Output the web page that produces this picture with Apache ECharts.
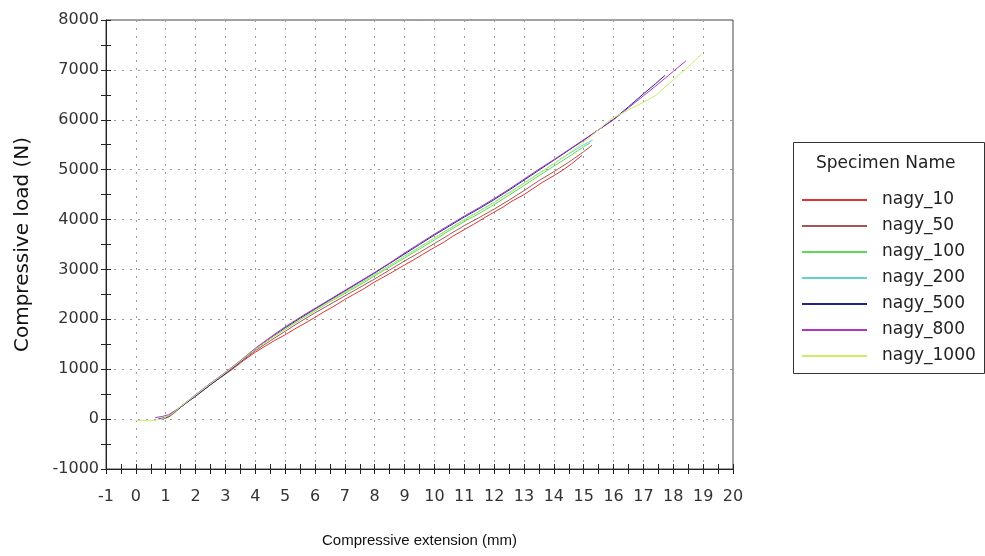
<!DOCTYPE html>
<html>
<head>
<meta charset="utf-8">
<script src="https://cdn.jsdelivr.net/npm/echarts@6/dist/echarts.min.js"></script>
<style>
html,body{margin:0;padding:0;background:#fff;}
#chart{width:985px;height:556px;}
</style>
</head>
<body>
<div id="chart"></div>
<script>
// ---- data ----
const seriesNames = ['nagy_10','nagy_50','nagy_100','nagy_200','nagy_500','nagy_800','nagy_1000'];
const seriesColors = ['#dd3333','#a65552','#55dd55','#66d0d0','#22228a','#b035c0','#c8ee66'];

const nagy_10 = [[0.85,0],[1.1,60],[1.3,150],[1.5,240],[1.8,380],[2.0,470],[2.3,600],[2.6,740],[3.0,900],[3.3,1030],[3.6,1170],[4.0,1340],[4.3,1450],[4.6,1560],[5.0,1690],[5.3,1800],[5.6,1900],[6.0,2040],[6.3,2150],[6.6,2250],[7.0,2400],[7.3,2500],[7.6,2600],[8.0,2750],[8.3,2850],[8.6,2950],[9.0,3090],[9.3,3190],[9.6,3300],[10.0,3440],[10.3,3540],[10.6,3660],[11.0,3800],[11.3,3900],[11.6,4010],[12.0,4150],[12.3,4250],[12.6,4370],[13.0,4500],[13.3,4620],[13.6,4740],[14.0,4880],[14.3,4990],[14.6,5120],[14.95,5290]];
const nagy_50 = [[0.9,0],[1.1,40],[1.3,130],[1.6,290],[2.0,460],[2.5,690],[3.0,910],[3.5,1140],[4.0,1370],[4.5,1570],[5.0,1760],[5.5,1950],[6.0,2130],[6.5,2300],[7.0,2470],[7.5,2640],[8.0,2810],[8.5,2990],[9.0,3170],[9.5,3340],[10.0,3520],[10.5,3700],[11.0,3880],[11.5,4040],[12.0,4210],[12.5,4390],[13.0,4580],[13.5,4780],[14.0,4960],[14.5,5150],[15.0,5360],[15.28,5490]];
const nagy_100 = [[0.9,0],[1.2,100],[1.5,250],[2.0,470],[2.5,700],[3.0,920],[3.5,1160],[4.0,1400],[4.5,1610],[5.0,1800],[5.5,1990],[6.0,2170],[6.5,2350],[7.0,2520],[7.5,2690],[8.0,2870],[8.5,3050],[9.0,3230],[9.5,3410],[10.0,3590],[10.5,3780],[11.0,3960],[11.5,4120],[12.0,4300],[12.5,4490],[13.0,4680],[13.5,4880],[14.0,5070],[14.5,5260],[15.0,5460],[15.2,5530]];
const nagy_200 = [[0.85,0],[1.1,70],[1.4,210],[2.0,480],[2.5,710],[3.0,930],[3.5,1170],[4.0,1410],[4.5,1620],[5.0,1820],[5.5,2000],[6.0,2190],[6.5,2370],[7.0,2550],[7.5,2720],[8.0,2900],[8.5,3080],[9.0,3270],[9.5,3450],[10.0,3630],[10.5,3820],[11.0,4000],[11.5,4170],[12.0,4350],[12.5,4540],[13.0,4730],[13.5,4930],[14.0,5120],[14.5,5320],[15.0,5500],[15.3,5590]];
const nagy_500 = [[0.75,5],[1.0,30],[1.2,100],[1.5,240],[2.0,460],[2.5,690],[3.0,910],[3.5,1150],[4.0,1400],[4.5,1620],[5.0,1830],[5.5,2020],[6.0,2210],[6.5,2390],[7.0,2570],[7.5,2750],[8.0,2930],[8.5,3120],[9.0,3310],[9.5,3500],[10.0,3690],[10.5,3870],[11.0,4050],[11.5,4220],[12.0,4400],[12.5,4590],[13.0,4790],[13.5,4990],[14.0,5190],[14.5,5390],[15.0,5590],[15.5,5800],[16.0,6010],[16.5,6260],[17.0,6520],[17.4,6720],[17.72,6890]];
const nagy_800 = [[0.65,30],[0.9,55],[1.1,90],[1.4,200],[2.0,490],[2.5,720],[3.0,940],[3.5,1170],[4.0,1420],[4.5,1640],[5.0,1850],[5.5,2040],[6.0,2220],[6.5,2400],[7.0,2580],[7.5,2760],[8.0,2940],[8.5,3130],[9.0,3330],[9.5,3520],[10.0,3710],[10.5,3890],[11.0,4070],[11.5,4240],[12.0,4420],[12.5,4610],[13.0,4810],[13.5,5010],[14.0,5200],[14.5,5400],[15.0,5600],[15.5,5800],[16.0,6000],[16.5,6240],[17.0,6480],[17.5,6720],[18.0,6970],[18.42,7179]];
const nagy_1000 = [[0,-30],[0.2,-20],[0.4,-35],[0.65,-25],[0.9,10],[1.2,100],[1.5,250],[2.0,480],[2.5,710],[3.0,930],[3.5,1160],[4.0,1400],[4.5,1610],[5.0,1810],[5.5,2000],[6.0,2180],[6.5,2360],[7.0,2540],[7.5,2710],[8.0,2890],[8.5,3080],[9.0,3260],[9.5,3440],[10.0,3630],[10.5,3810],[11.0,3990],[11.5,4160],[12.0,4340],[12.5,4530],[13.0,4720],[13.5,4920],[14.0,5120],[14.5,5330],[15.0,5550],[15.5,5800],[15.9,6010],[16.5,6200],[17.0,6350],[17.42,6490],[18.0,6800],[18.5,7060],[18.95,7314]];

const xMin = -1, xMax = 20, xStep = 1;
const yMin = -1000, yMax = 8000, yStep = 1000;
const xTitle = 'Compressive extension (mm)';
const yTitle = 'Compressive load (N)';
const legendTitle = 'Specimen Name';

const seriesData = [nagy_10, nagy_50, nagy_100, nagy_200, nagy_500, nagy_800, nagy_1000];

// ---- chart ----
const FONT = 'DejaVu Sans';
const chart = echarts.init(document.getElementById('chart'), null, {renderer:'canvas'});
const axisCol = '#222';
const gridLine = {show:true, lineStyle:{color:'#9a9a9a', width:1, type:[2,6]}};

const option = {
  animation:false,
  backgroundColor:'#ffffff',
  grid:{left:106, top:20, right:252, bottom:87, show:true, borderColor:'#444', borderWidth:1, backgroundColor:'transparent'},
  xAxis:[{
    type:'value', min:xMin, max:xMax, interval:xStep, position:'bottom',
    axisLine:{show:true, onZero:false, lineStyle:{color:axisCol, width:1}},
    axisTick:{show:true, length:5, lineStyle:{color:axisCol}},
    minorTick:{show:true, splitNumber:2, length:5, lineStyle:{color:axisCol}},
    axisLabel:{fontFamily:FONT, fontSize:16, color:'#333', margin:20, formatter:v=>String(v)},
    splitLine:gridLine,
    name:xTitle, nameLocation:'middle', nameGap:64,
    nameTextStyle:{fontFamily:'Liberation Sans', fontSize:15, color:'#111'}
  },{
    type:'value', min:xMin, max:xMax, interval:xStep, position:'bottom',
    axisLine:{show:false, onZero:false},
    axisTick:{show:true, inside:true, length:5, lineStyle:{color:axisCol}},
    minorTick:{show:true, splitNumber:2, length:5, lineStyle:{color:axisCol}},
    axisLabel:{show:false}, splitLine:{show:false}
  }],
  yAxis:[{
    type:'value', min:yMin, max:yMax, interval:yStep, position:'left',
    axisLine:{show:true, onZero:false, lineStyle:{color:axisCol, width:1}},
    axisTick:{show:true, length:5, lineStyle:{color:axisCol}},
    minorTick:{show:true, splitNumber:2, length:5, lineStyle:{color:axisCol}},
    axisLabel:{fontFamily:FONT, fontSize:16, color:'#333', margin:7, formatter:v=>String(v)},
    splitLine:gridLine,
    name:yTitle, nameLocation:'middle', nameGap:73, nameRotate:90,
    nameTextStyle:{fontFamily:FONT, fontSize:20, color:'#111'}
  },{
    type:'value', min:yMin, max:yMax, interval:yStep, position:'left',
    axisLine:{show:false, onZero:false},
    axisTick:{show:true, inside:true, length:5, lineStyle:{color:axisCol}},
    minorTick:{show:true, splitNumber:2, length:5, lineStyle:{color:axisCol}},
    axisLabel:{show:false}, splitLine:{show:false}
  }],
  legend:{
    orient:'vertical', left:797, top:186, itemWidth:65, itemHeight:2, itemGap:8,
    icon:'rect',
    data:seriesNames,
    textStyle:{fontFamily:FONT, fontSize:17, color:'#222', lineHeight:18, padding:[0,0,0,10]}
  },
  graphic:[{
    type:'rect', left:793, top:142, z:-1,
    shape:{width:191, height:231},
    style:{fill:'#fff', stroke:'#333', lineWidth:1}
  },{
    type:'text', left:816, top:155,
    style:{text:legendTitle, font:'17px "DejaVu Sans"', fill:'#222'}
  }],
  series: seriesNames.map((n,i)=>({
    name:n, type:'line', xAxisIndex:0, yAxisIndex:0,
    data:seriesData[i], symbol:'none', showSymbol:false,
    lineStyle:{color:seriesColors[i], width:1},
    itemStyle:{color:seriesColors[i]}
  }))
};
chart.setOption(option);
</script>
</body>
</html>
